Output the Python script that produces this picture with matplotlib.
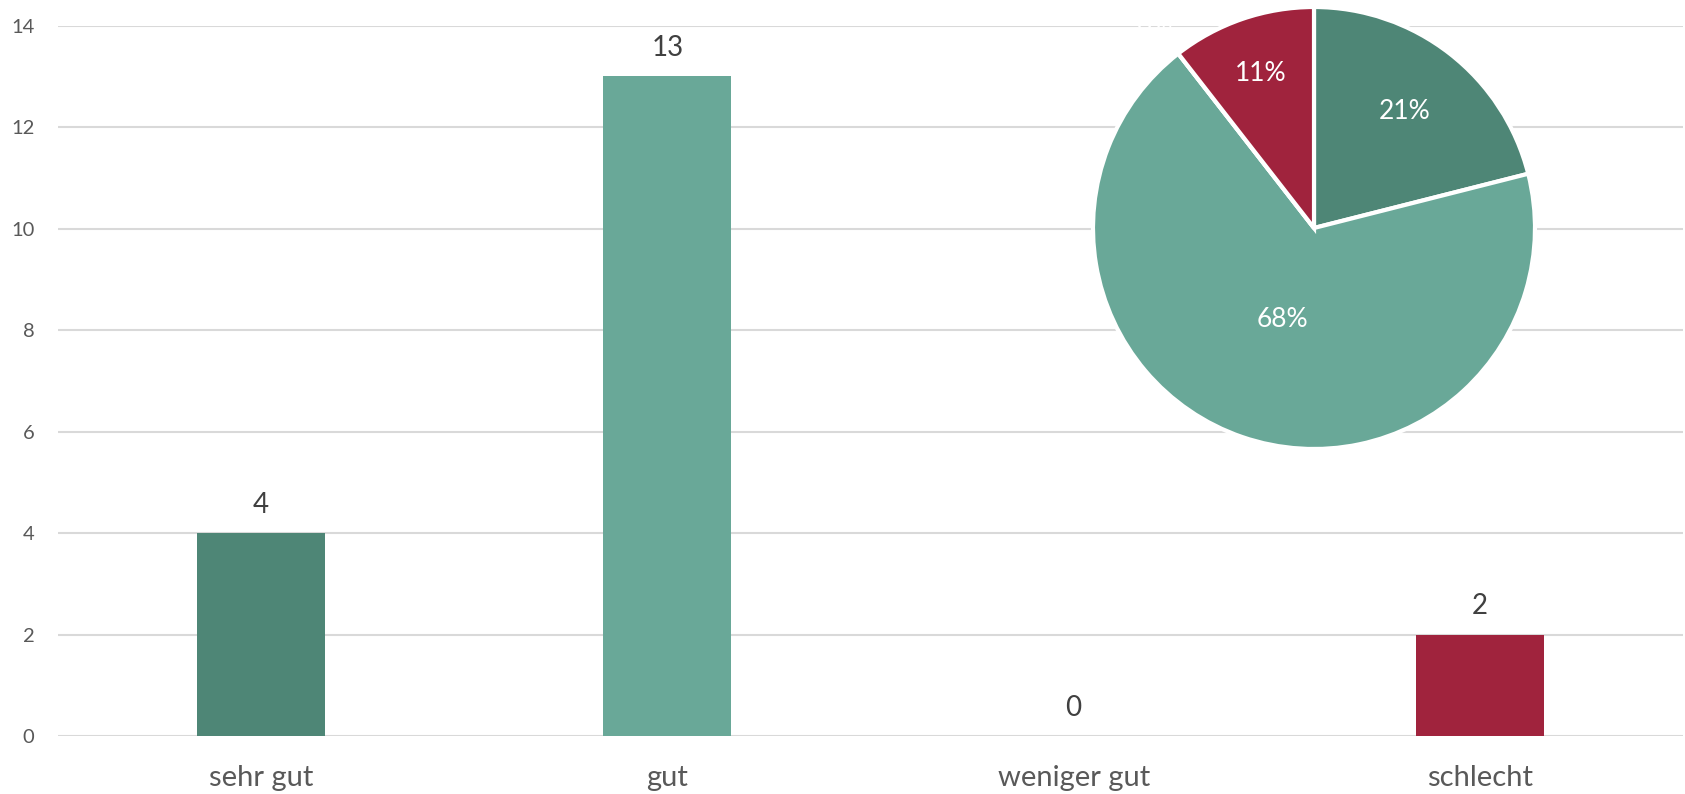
import matplotlib
matplotlib.use("Agg")
import matplotlib.pyplot as plt
import numpy as np

categories = ["sehr gut", "gut", "weniger gut", "schlecht"]
values = [4, 13, 0, 2]
colors = ["#4E8676", "#69A898", "#69A898", "#A0233D"]
pie_colors = ["#4E8676", "#69A898", "#8FBFB2", "#A0233D"]
yticks = [0, 2, 4, 6, 8, 10, 12, 14]

plt.rcParams['font.family'] = ['Lato', 'DejaVu Sans']

W, H = 1685, 794
fig = plt.figure(figsize=(W / 100, H / 100), dpi=100)
ax = fig.add_axes([58 / W, 1 - 736 / H, (1683 - 58) / W, (736 - 25.7) / H])

x = list(range(len(categories)))
ax.bar(x, values, width=0.315, color=colors, zorder=3)
ax.set_xlim(-0.5, len(categories) - 0.5)
ax.set_ylim(0, 14)
ax.set_yticks(yticks)
ax.set_xticks(x)
ax.set_xticklabels(categories, fontsize=21, color="#595959")
ax.tick_params(axis="y", length=0, pad=17, labelsize=14.5, labelcolor="#595959")
ax.tick_params(axis="x", length=0, pad=21)
ax.grid(axis="y", color="#D9D9D9", linewidth=1.5, zorder=0)
for s in ax.spines.values():
    s.set_visible(False)
for xi, v in zip(x, values):
    ax.annotate(str(v), (xi, v), xytext=(0, 11), textcoords="offset points",
                ha="center", va="bottom", fontsize=20, color="#404040")

# pie inset
cx, cy, r = 1314, 228, 221
pax = fig.add_axes([(cx - r) / W, 1 - (cy + r) / H, 2 * r / W, 2 * r / H])
wedges, texts, autotexts = pax.pie(
    values, colors=pie_colors, startangle=90, counterclock=False,
    autopct="%.0f%%", pctdistance=0.665, radius=1,
    wedgeprops=dict(edgecolor="white", linewidth=3),
    textprops=dict(color="white", fontsize=19))
label_dist = [0.67, 0.44, 0.665, 0.74]
for w, t, v, d in zip(wedges, autotexts, values, label_dist):
    if v == 0:
        t.set_position((-0.72, 0.92))
        continue
    a = np.deg2rad((w.theta1 + w.theta2) / 2)
    t.set_position((d * np.cos(a), d * np.sin(a)))
pax.set_xlim(-1, 1)
pax.set_ylim(-1, 1)
pax.set_aspect("equal")
pax.axis("off")

fig.savefig("out.png", dpi=100)
